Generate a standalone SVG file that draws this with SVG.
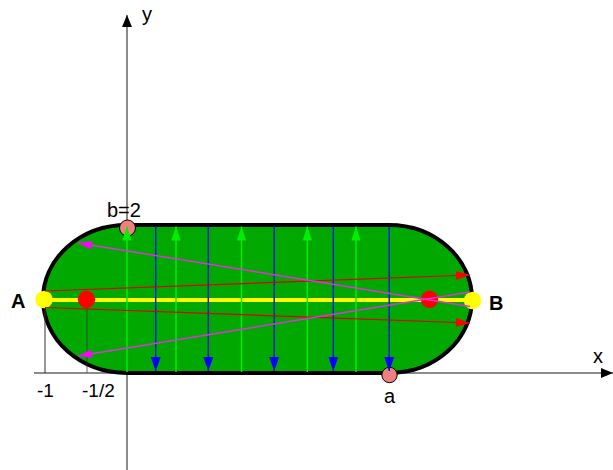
<svg xmlns="http://www.w3.org/2000/svg" width="613" height="470" viewBox="0 0 613 470">
<style>
text{font-family:"Liberation Sans",Arial,sans-serif;fill:#000}
.lbl{font-size:20px}
.tick{font-size:19px}
.bold{font-size:20px;font-weight:bold}
.axis{stroke:#666;stroke-width:1.5;fill:none}
.guide{stroke:#333;stroke-width:1;fill:none}
.up{stroke:#00ee00;stroke-width:1.5;marker-end:url(#mg)}
.down{stroke:#0022cc;stroke-width:1.5;marker-end:url(#mb)}
.ray{stroke:#e00000;stroke-width:1.2;marker-end:url(#mr)}
.mag{stroke:#dd33dd;stroke-width:1.5;marker-end:url(#mm)}
.pink{fill:#f08080;stroke:#000;stroke-width:1}
</style>
<defs>
<marker id="ma" markerUnits="userSpaceOnUse" markerWidth="12" markerHeight="10" refX="12" refY="5" orient="auto"><path d="M0,0 L12,5 L0,10 z" fill="#000"/></marker>
<marker id="mg" markerUnits="userSpaceOnUse" markerWidth="14" markerHeight="10" refX="14" refY="5" orient="auto"><path d="M0,0.3 L14,5 L0,9.7 z" fill="#00ee00"/></marker>
<marker id="mb" markerUnits="userSpaceOnUse" markerWidth="14" markerHeight="10" refX="14" refY="5" orient="auto"><path d="M0,0 L14,5 L0,10 z" fill="#0000ff"/></marker>
<marker id="mr" markerUnits="userSpaceOnUse" markerWidth="14" markerHeight="10" refX="14" refY="5" orient="auto"><path d="M0,0.5 L14,5 L0,9.5 z" fill="#ff0000"/></marker>
<marker id="mm" markerUnits="userSpaceOnUse" markerWidth="14" markerHeight="10" refX="14" refY="5" orient="auto"><path d="M0,0.8 L14,5 L0,9.2 z" fill="#ff00ff"/></marker>
</defs>

<g id="axes">
<line class="axis" x1="34" y1="373" x2="613" y2="373" marker-end="url(#ma)"/>
<line class="axis" x1="127" y1="470" x2="127" y2="15" marker-end="url(#ma)"/>
<text class="lbl" x="593" y="363">x</text>
<text class="lbl" x="142" y="21">y</text>
<text class="tick" x="45.5" y="397" text-anchor="middle">-1</text>
<text class="tick" x="82" y="397">-1/2</text>
</g>

<g id="stadium">
<path d="M127,225 H389 A83,74 0 0 1 389,373 H127 A84,74 0 0 1 127,225 Z" fill="#00a800" stroke="#000" stroke-width="4"/>
</g>

<g id="guides">
<line class="guide" x1="45" y1="300" x2="45" y2="373"/>
<line class="guide" x1="87" y1="300" x2="87" y2="373" stroke-opacity="0.7"/>
</g>

<g id="segment-AB">
<line x1="43" y1="300" x2="472" y2="300" stroke="#ffff00" stroke-width="4"/>
</g>

<g id="point-b">
<circle class="pink" cx="127.5" cy="228" r="8"/>
<text class="lbl" x="107" y="217">b=2</text>
</g>
<g id="point-a">
<circle class="pink" cx="389.5" cy="375" r="7.7"/>
<text class="lbl" x="389.5" y="403" text-anchor="middle">a</text>
</g>

<g id="point-A">
<circle cx="44" cy="299.5" r="8.7" fill="#ffff00"/>
<text class="bold" x="11" y="308">A</text>
</g>
<g id="point-B">
<circle cx="472.5" cy="300.5" r="8.7" fill="#ffff00"/>
<text class="bold" x="489" y="310">B</text>
</g>
<g id="focus-left">
<circle cx="86.5" cy="299.3" r="8.7" fill="#ff0000"/>
</g>
<g id="focus-right">
<circle cx="429.5" cy="299.3" r="8.7" fill="#ff0000"/>
</g>

<g id="connectors">
<line class="up" x1="127" y1="372" x2="127" y2="226.5"/>
<line class="up" x1="176" y1="372" x2="176" y2="226.5"/>
<line class="up" x1="241.5" y1="372" x2="241.5" y2="226.5"/>
<line class="up" x1="307.3" y1="372" x2="307.3" y2="226.5"/>
<line class="up" x1="356" y1="372" x2="356" y2="226.5"/>
<line class="down" x1="155.7" y1="226" x2="155.7" y2="371"/>
<line class="down" x1="208.3" y1="226" x2="208.3" y2="371"/>
<line class="down" x1="274.2" y1="226" x2="274.2" y2="371"/>
<line class="down" x1="333.3" y1="226" x2="333.3" y2="371"/>
<line class="down" x1="389.2" y1="226" x2="389.2" y2="371"/>
<line class="ray" x1="45" y1="291" x2="470" y2="275"/>
<line class="ray" x1="45" y1="307.5" x2="470" y2="323"/>
<line class="mag" x1="470" y1="306.5" x2="78" y2="243"/>
<line class="mag" x1="470" y1="292" x2="78" y2="356"/>
</g>
</svg>
